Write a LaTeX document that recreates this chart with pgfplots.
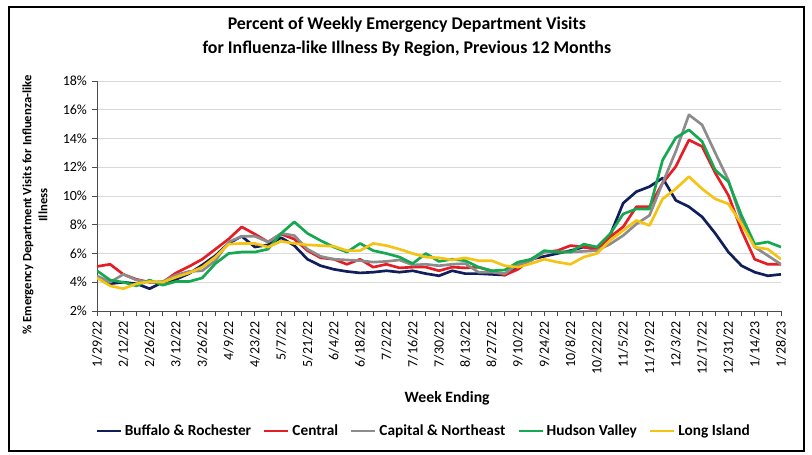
\documentclass[border=0pt]{standalone}
\usepackage{pgfplots}
\pgfplotsset{compat=1.18}
\usepackage{pgfplotstable}
\usepackage{fontspec}
\setmainfont{Carlito}

\definecolor{cbr}{RGB}{16,30,90}
\definecolor{cce}{RGB}{228,30,36}
\definecolor{ccn}{RGB}{140,140,140}
\definecolor{chv}{RGB}{20,168,80}
\definecolor{cli}{RGB}{245,195,20}

% weekly ILI share (%), weeks ending 1/29/22 .. 1/28/23
\pgfplotstableread{
w   br    ce    cn    hv    li
0   4.35  5.10  4.45  4.80  4.30
1   3.90  5.25  4.00  4.15  3.75
2   4.00  4.55  4.55  4.00  3.55
3   3.90  4.20  4.15  3.75  3.90
4   3.55  4.00  4.00  4.15  4.05
5   4.00  4.00  4.05  3.80  4.00
6   4.20  4.65  4.50  4.05  4.35
7   4.60  5.10  4.75  4.05  4.65
8   5.20  5.60  4.80  4.30  5.05
9   5.85  6.30  5.50  5.30  5.75
10  6.70  7.00  6.80  6.00  6.65
11  7.20  7.85  7.20  6.10  6.70
12  6.45  7.35  7.20  6.10  6.70
13  6.60  6.80  6.80  6.30  6.45
14  7.10  7.35  7.40  7.40  6.85
15  6.55  7.00  7.25  8.20  6.70
16  5.60  6.20  6.30  7.40  6.60
17  5.15  5.70  5.80  6.90  6.55
18  4.90  5.60  5.60  6.45  6.50
19  4.75  5.25  5.55  6.10  6.20
20  4.65  5.60  5.50  6.70  6.20
21  4.70  5.05  5.40  6.20  6.70
22  4.80  5.25  5.45  6.00  6.55
23  4.70  5.00  5.55  5.75  6.30
24  4.80  5.05  5.20  5.30  6.00
25  4.60  5.05  5.25  6.00  5.75
26  4.45  4.80  5.15  5.45  5.70
27  4.80  5.05  5.25  5.60  5.55
28  4.60  5.00  5.30  5.50  5.70
29  4.60  5.05  4.70  5.05  5.50
30  4.55  4.80  4.70  4.80  5.50
31  4.50  4.50  4.60  4.85  5.15
32  5.05  4.90  5.25  5.40  5.05
33  5.60  5.60  5.50  5.60  5.30
34  5.80  6.10  6.10  6.20  5.60
35  6.00  6.20  6.10  6.10  5.40
36  6.20  6.55  6.10  6.10  5.25
37  6.45  6.45  6.15  6.65  5.75
38  6.30  6.30  6.20  6.45  6.00
39  7.25  7.15  6.65  7.35  6.90
40  9.50  7.85  7.25  8.75  7.60
41  10.30 9.25  8.05  9.10  8.30
42  10.65 9.25  8.65  9.10  7.95
43  11.25 10.90 10.90 12.50 9.80
44  9.70  12.05 13.10 14.05 10.50
45  9.25  13.90 15.65 14.60 11.35
46  8.55  13.45 14.95 13.80 10.50
47  7.40  11.60 13.00 11.80 9.80
48  6.10  10.05 11.10 11.00 9.45
49  5.15  7.60  8.30  8.65  8.05
50  4.70  5.60  6.45  6.65  6.45
51  4.45  5.25  5.85  6.80  6.30
52  4.55  5.25  5.25  6.45  5.60
}\ili

\begin{document}
\begin{tikzpicture}
\useasboundingbox (0,0) rectangle (609pt,340.5pt);
\draw[line width=1.6pt] (6.75pt,2.25pt) rectangle (603pt,335.25pt);
\begin{axis}[
  at={(72.75pt,107.25pt)}, anchor=south west,
  scale only axis, width=513pt, height=172.5pt,
  xmin=0, xmax=52, ymin=2, ymax=18,
  xtick={0,2,...,52},
  xticklabels={1/29/22,2/12/22,2/26/22,3/12/22,3/26/22,4/9/22,4/23/22,5/7/22,5/21/22,6/4/22,6/18/22,7/2/22,7/16/22,7/30/22,8/13/22,8/27/22,9/10/22,9/24/22,10/8/22,10/22/22,11/5/22,11/19/22,12/3/22,12/17/22,12/31/22,1/14/23,1/28/23},
  minor x tick num=1,
  ytick={2,4,...,18},
  yticklabels={2\%,4\%,6\%,8\%,10\%,12\%,14\%,16\%,18\%},
  x tick label style={rotate=90, anchor=east, font=\fontsize{10.5}{12}\selectfont},
  y tick label style={font=\fontsize{10.5}{12}\selectfont},
  tick align=outside, tick pos=left,
  major tick length=4pt, minor tick length=4pt,
  tick style={black!70, line width=0.6pt},
  axis x line*=bottom, axis y line*=left,
  axis line style={black!70, line width=0.6pt},
  ymajorgrids,
  major grid style={gray!30, line width=0.6pt},
  title={Percent of Weekly Emergency Department Visits\\for Influenza-like Illness By Region, Previous 12 Months},
  title style={at={(axis description cs:0.453,1.158)}, anchor=center, align=center,
    font=\bfseries\fontsize{13.4}{18.5}\selectfont},
  xlabel={Week Ending},
  xlabel style={at={(axis description cs:0.512,-0.378)}, anchor=center,
    font=\bfseries\fontsize{11.8}{13}\selectfont},
  ylabel={\% Emergency Department Visits for Influenza-like\\Illness},
  ylabel style={at={(axis description cs:-0.0906,0.461)}, anchor=center, rotate=0, align=center,
    font=\bfseries\fontsize{9.5}{12}\selectfont},
  legend style={at={(axis description cs:0.478,-0.522)}, anchor=center, draw=none,
    font=\bfseries\fontsize{11.5}{13}\selectfont, legend columns=5,
    /tikz/every even column/.append style={column sep=7pt}},
  legend image code/.code={\draw[#1, line width=2pt] (0pt,0pt) -- (18pt,0pt);},
  every axis plot/.append style={line width=2pt, line join=round},
]
\addplot[cbr] table[x=w, y=br] {\ili};
\addplot[cce] table[x=w, y=ce] {\ili};
\addplot[ccn] table[x=w, y=cn] {\ili};
\addplot[chv] table[x=w, y=hv] {\ili};
\addplot[cli] table[x=w, y=li] {\ili};
\legend{Buffalo \& Rochester, Central, Capital \& Northeast, Hudson Valley, Long Island}
\end{axis}
\end{tikzpicture}
\end{document}
